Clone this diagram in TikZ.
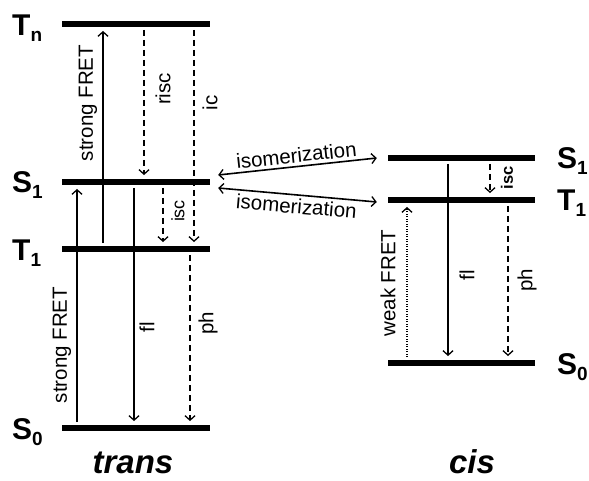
\documentclass[tikz,border=0pt]{standalone}
\usepackage{fontspec}
\setmainfont{Liberation Sans}
\usetikzlibrary{arrows.meta}
\tikzset{
  level/.style={fill=black, inner sep=0pt, minimum height=5.5pt, minimum width=148pt},
  tip/.tip={Straight Barb[length=4.5pt,width=10pt,line width=1.3pt]},
  tr/.style={line width=1.6pt, -tip, shorten <=3pt, shorten >=4pt},
  dsh/.style={tr, dash pattern=on 6pt off 4pt},
  dtt/.style={tr, dash pattern=on 1pt off 1.5pt},
  iso/.style={line width=1.6pt, tip-tip},
  lbl/.style={font=\fontsize{20.5}{20.5}\selectfont, inner sep=0pt, rotate=90},
  slbl/.style={font=\fontsize{18}{18}\selectfont, inner sep=0pt, rotate=90},
  state/.style={font=\fontsize{30}{30}\selectfont\bfseries, inner sep=0pt, anchor=base west},
  isomer/.style={font=\fontsize{33}{33}\selectfont\bfseries\itshape, inner sep=0pt, anchor=base, text depth=0pt}
}
\newcommand{\sub}[1]{\raisebox{-6pt}{\fontsize{19}{19}\selectfont #1}}
\begin{document}
\begin{tikzpicture}[x=1pt,y=1pt]
\useasboundingbox (0,0) rectangle (589,-481);
% trans levels
\node[level] (tTn) at (136,-24) {};
\node[level] (tS1) at (136,-182) {};
\node[level] (tT1) at (136,-249) {};
\node[level] (tS0) at (136,-428) {};
% cis levels
\node[level, minimum width=147pt] (cS1) at (461.5,-158) {};
\node[level, minimum width=147pt] (cT1) at (461.5,-200) {};
\node[level, minimum width=147pt] (cS0) at (461.5,-363) {};
% state labels
\node[state] (lTn) at (12,-35.5) {T\sub{n}};
\node[state] (lS1) at (12,-193) {S\sub{1}};
\node[state] (lT1) at (12,-260) {T\sub{1}};
\node[state] (lS0) at (12,-439) {S\sub{0}};
\node[state] (rS1) at (557,-169) {S\sub{1}};
\node[state] (rT1) at (557,-211) {T\sub{1}};
\node[state] (rS0) at (557,-374) {S\sub{0}};
\node[isomer] (trans) at (133,-473) {trans};
\node[isomer] (cis) at (472,-473) {cis};
% trans transitions
\draw[tr] ([xshift=-33pt]tT1.north) -- ([xshift=-33pt]tTn.south);
\draw[dsh] ([xshift=8pt]tTn.south) -- ([xshift=8pt]tS1.north);
\draw[dsh] ([xshift=58pt]tTn.south) -- ([xshift=58pt]tT1.north);
\draw[dsh] ([xshift=27pt]tS1.south) -- ([xshift=27pt]tT1.north);
\draw[tr] ([xshift=-2pt]tS1.south) -- ([xshift=-2pt]tS0.north);
\draw[tr] ([xshift=-59pt]tS0.north) -- ([xshift=-59pt]tS1.south);
\draw[dsh] ([xshift=54pt]tT1.south) -- ([xshift=54pt]tS0.north);
\node[lbl] (sf1) at (88,-103) {strong FRET};
\node[lbl] (risc) at (163,-89) {risc};
\node[lbl] (ic) at (210,-103) {ic};
\node[slbl] (isc1) at (178,-211) {isc};
\node[lbl] (sf2) at (62,-345) {strong FRET};
\node[lbl] (fl1) at (147,-327) {fl};
\node[lbl] (ph1) at (208,-323) {ph};
% cis transitions
\draw[tr] ([xshift=-13.5pt]cS1.south) -- ([xshift=-13.5pt]cS0.north);
\draw[dsh] ([xshift=28.5pt]cS1.south) -- ([xshift=28.5pt]cT1.north);
\draw[dsh] ([xshift=46.5pt]cT1.south) -- ([xshift=46.5pt]cS0.north);
\draw[dtt] ([xshift=-54.5pt]cS0.north) -- ([xshift=-54.5pt]cT1.south);
\node[lbl] (wf) at (388,-283) {weak FRET};
\node[lbl] (fl2) at (467,-275) {fl};
\node[lbl] (ph2) at (527,-280) {ph};
\node[slbl, font=\fontsize{16.5}{16.5}\selectfont\bfseries] (isc2) at (507,-178) {isc};
% isomerization
\draw[iso] ([shift={(8pt,7pt)}]tS1.east) -- node[sloped, above=3pt, font=\fontsize{20.5}{20.5}\selectfont, inner sep=0pt] (iso1) {isomerization} ([xshift=-11pt]cS1.west);
\draw[iso] ([shift={(8pt,-6pt)}]tS1.east) -- node[sloped, below=3pt, font=\fontsize{20.5}{20.5}\selectfont, inner sep=0pt] (iso2) {isomerization} ([shift={(-11pt,-2pt)}]cT1.west);
\end{tikzpicture}
\end{document}
